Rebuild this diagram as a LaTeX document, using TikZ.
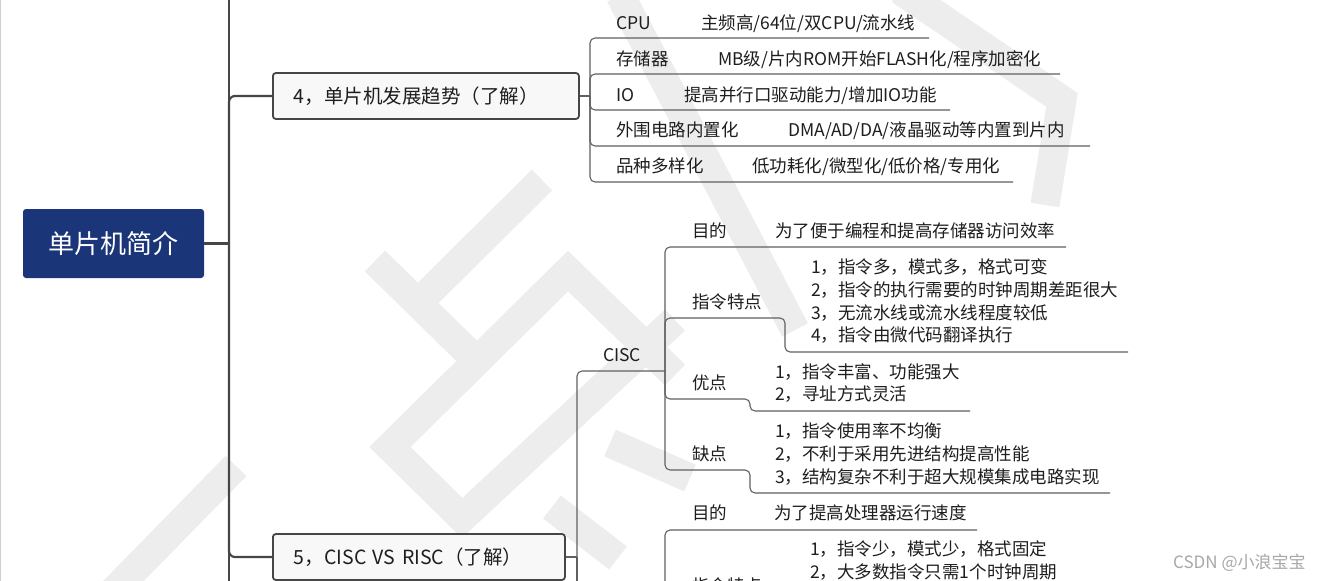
\documentclass[tikz,border=0pt]{standalone}
\usepackage{fontspec}
\setmainfont{Noto Sans CJK SC}
\definecolor{rootblue}{HTML}{1A3578}
\definecolor{boxfill}{HTML}{F8F8F8}
\definecolor{linedark}{HTML}{464646}
\definecolor{linesub}{HTML}{606060}
\definecolor{wm}{HTML}{EDEDED}
\definecolor{txt}{HTML}{1E1E1E}
\definecolor{wmtext}{HTML}{A8A8A8}
\definecolor{edge}{HTML}{CFCFCF}
\tikzset{
  trunk/.style={draw=linedark, line width=2.2pt},
  subline/.style={draw=linesub, line width=1.1pt, rounded corners=5pt},
  wmband/.style={draw=wm, line width=29pt, line cap=butt, line join=miter},
  rootbox/.style={fill=rootblue, rounded corners=3pt, text=white,
    font=\fontsize{26}{30}\selectfont, minimum width=181pt, minimum height=69pt, inner sep=0pt},
  topicbox/.style={draw=linedark, line width=1.8pt, fill=boxfill, rounded corners=3pt,
    font=\fontsize{19.5}{23}\selectfont, text=txt, minimum height=46pt,
    inner xsep=21pt, inner ysep=0pt, align=left, anchor=west},
  lbl/.style={anchor=base west, inner sep=0pt, font=\fontsize{17.5}{21}\selectfont, text=txt},
  wmlabel/.style={anchor=base west, inner sep=0pt, font=\fontsize{17}{20}\selectfont, text=wmtext},
}
\begin{document}
\begin{tikzpicture}[x=1pt,y=-1pt]
\useasboundingbox (0,0) rectangle (1326,581);
\clip (0,0) rectangle (1326,581);
\fill[white] (0,0) rectangle (1326,581);
% watermark bands
\draw[wmband] (100,605) -- (236,466);
\draw[wmband] (375,261) -- (478,362);
\draw[wmband] (542,180) -- (418,303);
\draw[wmband] (675,375) -- (568,271) -- (390,447) -- (462,518) -- (675,320);
\draw[wmband] (552,507) -- (618,558);
\draw[wmband] (610,443) -- (690,478);
\draw[wmband] (620,-5) -- (795,330);
\draw[wmband] (900,-10) -- (1062,100) -- (1045,205);
% left edge
\draw[edge, line width=1pt] (0.5,0) -- (0.5,581);
% trunk
\coordinate (ttop) at (229,-5);
\coordinate (tbot) at (229,590);
\coordinate (tj) at (229,243.5);
\node[rootbox] (root) at (113.5,243.5) {单片机简介};
\node[topicbox, text width=264pt] (n4) at (272,96) {\mbox{4，单片机发展趋势（了解）}};
\node[topicbox, text width=250pt] (n5) at (272,557) {\mbox{5，CISC VS RISC（了解）}};
\draw[trunk] (ttop) -- (tbot);
\draw[trunk] (root.east) -- (tj);
\draw[trunk, rounded corners=6pt] (tj) |- (n4.west);
\draw[trunk, rounded corners=6pt] (tj) |- (n5.west);
% node 4 children
\coordinate (j4) at (590,96);
\coordinate (u41) at (929,38);
\coordinate (u42) at (1060,74);
\coordinate (u43) at (950,110);
\coordinate (u44) at (1090,146);
\coordinate (u45) at (1013,182);
\draw[subline] (n4.east) -- (j4);
\draw[subline] (j4) |- (u41);
\draw[subline] (j4) |- (u42);
\draw[subline] (j4) |- (u43);
\draw[subline] (j4) |- (u44);
\draw[subline] (j4) |- (u45);
\node[lbl] (k1) at (616,29.5) {CPU};
\node[lbl] (v1) at (701,29.5) {主频高/64位/双CPU/流水线};
\node[lbl] (k2) at (616,65) {存储器};
\node[lbl] (v2) at (718,65) {MB级/片内ROM开始FLASH化/程序加密化};
\node[lbl] (k3) at (616,101) {IO};
\node[lbl] (v3) at (684,101) {提高并行口驱动能力/增加IO功能};
\node[lbl] (k4) at (616,136.5) {外围电路内置化};
\node[lbl] (v4) at (788,136.5) {DMA/AD/DA/液晶驱动等内置到片内};
\node[lbl] (k5) at (616,172.5) {品种多样化};
\node[lbl] (v5) at (752,172.5) {低功耗化/微型化/低价格/专用化};
% node 5 children
\coordinate (j5) at (577,557);
\coordinate (uC) at (665,371);
\coordinate (r5b) at (577,600);
\draw[subline] (n5.east) -- (j5);
\draw[subline] (j5) |- (uC);
\draw[subline] (j5) -- (r5b);
\node[lbl] (cisc) at (603,361.5) {CISC};
% CISC children
\coordinate (uC1) at (1066,247);
\coordinate (s2a) at (785,318);
\coordinate (s2b) at (785,352);
\coordinate (uC2) at (1128,352);
\coordinate (s3a) at (750,399);
\coordinate (s3b) at (750,411);
\coordinate (uC3) at (970,411);
\coordinate (s4a) at (750,470);
\coordinate (s4b) at (750,493);
\coordinate (uC4) at (1110,493);
\draw[subline] (uC) |- (uC1);
\draw[subline] (uC) |- (s2a) -- (s2b) -- (uC2);
\draw[subline] (uC) |- (s3a) -- (s3b) -- (uC3);
\draw[subline] (uC) |- (s4a) -- (s4b) -- (uC4);
\node[lbl] (c1k) at (692,237.5) {目的};
\node[lbl] (c1v) at (775,237.5) {为了便于编程和提高存储器访问效率};
\node[lbl] (c2k) at (692,308.5) {指令特点};
\node[lbl] (c2a) at (811,273.5) {1，指令多，模式多，格式可变};
\node[lbl] (c2b) at (811,296.5) {2，指令的执行需要的时钟周期差距很大};
\node[lbl] (c2c) at (811,319.5) {3，无流水线或流水线程度较低};
\node[lbl] (c2d) at (811,341.5) {4，指令由微代码翻译执行};
\node[lbl] (c3k) at (692,389.5) {优点};
\node[lbl] (c3a) at (775,378.5) {1，指令丰富、功能强大};
\node[lbl] (c3b) at (775,400.5) {2，寻址方式灵活};
\node[lbl] (c4k) at (692,460.5) {缺点};
\node[lbl] (c4a) at (775,437.5) {1，指令使用率不均衡};
\node[lbl] (c4b) at (775,460.5) {2，不利于采用先进结构提高性能};
\node[lbl] (c4c) at (775,483.5) {3，结构复杂不利于超大规模集成电路实现};
% RISC children
\coordinate (jR) at (665,600);
\coordinate (uR1) at (977,530);
\draw[subline] (jR) |- (uR1);
\node[lbl] (r1k) at (692,519.5) {目的};
\node[lbl] (r1v) at (774,519.5) {为了提高处理器运行速度};
\node[lbl] (r2a) at (810,555.5) {1，指令少，模式少，格式固定};
\node[lbl] (r2b) at (810,578.5) {2，大多数指令只需1个时钟周期};
\node[lbl] (r2k) at (692,592.5) {指令特点};
% watermark text
\node[wmlabel] (wmt) at (1173,568.5) {CSDN @小浪宝宝};
\end{tikzpicture}
\end{document}
